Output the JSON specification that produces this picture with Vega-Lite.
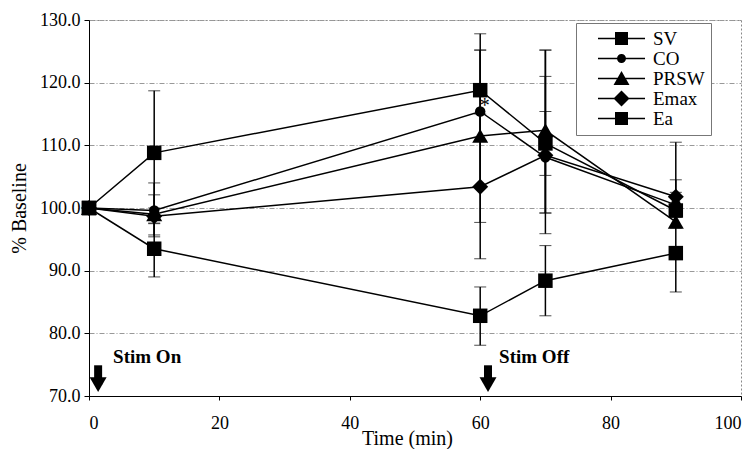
{
  "$schema": "https://vega.github.io/schema/vega-lite/v6.json",
  "width": 652,
  "height": 376,
  "autosize": {"type": "none"},
  "padding": {"left": 89, "top": 20, "right": 13, "bottom": 53},
  "background": "white",
  "config": {
    "view": {"stroke": "#888", "strokeDash": [2, 2], "strokeWidth": 1},
    "font": "Liberation Serif",
    "axis": {
      "labelFont": "Liberation Serif",
      "titleFont": "Liberation Serif",
      "labelColor": "black",
      "titleColor": "black",
      "domainColor": "black",
      "tickColor": "black",
      "titleFontWeight": "normal",
      "labelFontSize": 18,
      "titleFontSize": 20
    }
  },
  "datasets": {
    "series": [
      {"series": "SV", "t": 0, "v": 100, "lo": null, "hi": null},
      {"series": "SV", "t": 10, "v": 93.5, "lo": 89.0, "hi": 97.6},
      {"series": "SV", "t": 60, "v": 82.8, "lo": 78.1, "hi": 87.4},
      {"series": "SV", "t": 70, "v": 88.4, "lo": 82.8, "hi": 94.0},
      {"series": "SV", "t": 90, "v": 92.8, "lo": 86.6, "hi": 99.0},
      {"series": "CO", "t": 0, "v": 100, "lo": null, "hi": null},
      {"series": "CO", "t": 10, "v": 99.6, "lo": 95.4, "hi": 104.0},
      {"series": "CO", "t": 60, "v": 115.4, "lo": 103.4, "hi": 125.2},
      {"series": "CO", "t": 70, "v": 108.1, "lo": 99.2, "hi": 121.0},
      {"series": "CO", "t": 90, "v": 100.5, "lo": 99.5, "hi": 102.5},
      {"series": "PRSW", "t": 0, "v": 100, "lo": null, "hi": null},
      {"series": "PRSW", "t": 10, "v": 99.0, "lo": 95.7, "hi": 102.1},
      {"series": "PRSW", "t": 60, "v": 111.5, "lo": 97.7, "hi": 125.2},
      {"series": "PRSW", "t": 70, "v": 112.4, "lo": 99.2, "hi": 125.2},
      {"series": "PRSW", "t": 90, "v": 97.8, "lo": 96.8, "hi": 99.5},
      {"series": "Emax", "t": 0, "v": 100, "lo": null, "hi": null},
      {"series": "Emax", "t": 10, "v": 98.7, "lo": 97.5, "hi": 100.0},
      {"series": "Emax", "t": 60, "v": 103.4, "lo": 91.9, "hi": 115.0},
      {"series": "Emax", "t": 70, "v": 108.4, "lo": 105.2, "hi": 115.4},
      {"series": "Emax", "t": 90, "v": 101.8, "lo": 100.5, "hi": 104.5},
      {"series": "Ea", "t": 0, "v": 100, "lo": null, "hi": null},
      {"series": "Ea", "t": 10, "v": 108.8, "lo": 99.0, "hi": 118.7},
      {"series": "Ea", "t": 60, "v": 118.8, "lo": 110.8, "hi": 127.8},
      {"series": "Ea", "t": 70, "v": 110.3, "lo": 95.9, "hi": 125.2},
      {"series": "Ea", "t": 90, "v": 99.6, "lo": 98.5, "hi": 110.5}
    ],
    "notes": [
      {"t": 3.7, "v": 75.3, "label": "Stim On"},
      {"t": 62.9, "v": 75.3, "label": "Stim Off"}
    ],
    "arrows": [
      {"t": 1.4, "top": 74.9, "bottom": 71.8, "head": 71.8},
      {"t": 61.2, "top": 74.9, "bottom": 71.8, "head": 71.8}
    ],
    "star": [
      {"t": 60.7, "v": 115.3, "label": "*"}
    ]
  },
  "layer": [
    {
      "data": {"name": "series"},
      "mark": {"type": "line", "color": "black", "strokeWidth": 1.5},
      "encoding": {
        "x": {
          "field": "t", "type": "quantitative",
          "scale": {"domain": [0, 100], "nice": false},
          "axis": {
            "values": [0, 20, 40, 60, 80, 100],
            "title": "Time (min)",
            "grid": false,
            "tickSize": 4,
            "labelPadding": 14,
            "titlePadding": -4,
            "titleX": 318
          }
        },
        "y": {
          "field": "v", "type": "quantitative",
          "title": "% Baseline",
          "scale": {"domain": [70, 130], "nice": false, "zero": false},
          "axis": {
            "values": [70, 80, 90, 100, 110, 120, 130],
            "format": ".1f",
            "title": "% Baseline",
            "grid": true,
            "gridColor": "#999",
            "gridDash": [5, 2, 1, 2],
            "tickSize": 5,
            "labelPadding": 4,
            "titlePadding": 10
          }
        },
        "detail": {"field": "series"}
      }
    },
    {
      "data": {"name": "series"},
      "transform": [{"filter": "datum.lo != null"}],
      "mark": {"type": "errorbar", "color": "black", "ticks": {"size": 12, "color": "black"}, "rule": {"color": "black", "strokeWidth": 1.5}},
      "encoding": {
        "x": {"field": "t", "type": "quantitative"},
        "y": {"field": "lo", "type": "quantitative", "title": "% Baseline"},
        "y2": {"field": "hi"},
        "detail": {"field": "series"}
      }
    },
    {
      "data": {"name": "series"},
      "mark": {"type": "point", "filled": true, "color": "black", "opacity": 0, "size": 100},
      "encoding": {
        "x": {"field": "t", "type": "quantitative"},
        "y": {"field": "v", "type": "quantitative", "title": "% Baseline"},
        "shape": {
          "field": "series", "type": "nominal",
          "scale": {
            "domain": ["SV", "CO", "PRSW", "Emax", "Ea"],
            "range": [
              "M-4.7,-0.17H4.7V0.17H-4.7ZM-1.3,-1.3H1.3V1.3H-1.3Z",
              "M-4.7,-0.17H4.7V0.17H-4.7ZM-0.9,0A0.9,0.9,0,1,1,0.9,0A0.9,0.9,0,1,1,-0.9,0Z",
              "M-4.7,-0.17H4.7V0.17H-4.7ZM0,-1.5L1.6,1.3H-1.6Z",
              "M-4.7,-0.17H4.7V0.17H-4.7ZM0,-1.6L1.6,0L0,1.6L-1.6,0Z",
              "M-4.7,-0.17H4.7V0.17H-4.7ZM-1.3,-1.3H1.3V1.3H-1.3Z"
            ]
          },
          "legend": {
            "title": null,
            "orient": "none",
            "legendX": 487,
            "legendY": 3,
            "labelFont": "Liberation Serif",
            "labelFontSize": 19,
            "labelColor": "black",
            "labelAlign": "left",
            "strokeColor": "#777",
            "fillColor": "white",
            "padding": 6,
            "symbolOffset": 30,
            "labelOffset": 22,
            "rowPadding": -3,
            "symbolSize": 100,
            "symbolOpacity": 1,
            "symbolFillColor": "black",
            "symbolStrokeColor": "black",
            "symbolStrokeWidth": 0,
            "encode": {
              "legend": {
                "update": {"strokeDash": {"value": [2, 2]}}
              }
            }
          }
        }
      }
    },
    {
      "data": {"name": "series"},
      "transform": [{"filter": "datum.series === 'SV' || datum.series === 'Ea'"}],
      "mark": {"type": "point", "shape": "square", "filled": true, "color": "black", "opacity": 1, "size": 210},
      "encoding": {
        "x": {"field": "t", "type": "quantitative"},
        "y": {"field": "v", "type": "quantitative", "title": "% Baseline"}
      }
    },
    {
      "data": {"name": "series"},
      "transform": [{"filter": "datum.series === 'CO'"}],
      "mark": {"type": "point", "shape": "circle", "filled": true, "color": "black", "opacity": 1, "size": 110},
      "encoding": {
        "x": {"field": "t", "type": "quantitative"},
        "y": {"field": "v", "type": "quantitative", "title": "% Baseline"}
      }
    },
    {
      "data": {"name": "series"},
      "transform": [{"filter": "datum.series === 'PRSW'"}],
      "mark": {"type": "point", "shape": "triangle-up", "filled": true, "color": "black", "opacity": 1, "size": 256},
      "encoding": {
        "x": {"field": "t", "type": "quantitative"},
        "y": {"field": "v", "type": "quantitative", "title": "% Baseline"}
      }
    },
    {
      "data": {"name": "series"},
      "transform": [{"filter": "datum.series === 'Emax'"}],
      "mark": {"type": "point", "shape": "diamond", "filled": true, "color": "black", "opacity": 1, "size": 256},
      "encoding": {
        "x": {"field": "t", "type": "quantitative"},
        "y": {"field": "v", "type": "quantitative", "title": "% Baseline"}
      }
    },
    {
      "data": {"name": "notes"},
      "mark": {"type": "text", "align": "left", "baseline": "alphabetic", "font": "Liberation Serif", "fontWeight": "bold", "fontSize": 19, "color": "black"},
      "encoding": {
        "x": {"field": "t", "type": "quantitative"},
        "y": {"field": "v", "type": "quantitative", "title": "% Baseline"},
        "text": {"field": "label"}
      }
    },
    {
      "data": {"name": "arrows"},
      "mark": {"type": "rule", "color": "black", "strokeWidth": 8},
      "encoding": {
        "x": {"field": "t", "type": "quantitative"},
        "y": {"field": "top", "type": "quantitative", "title": "% Baseline"},
        "y2": {"field": "bottom"}
      }
    },
    {
      "data": {"name": "arrows"},
      "mark": {"type": "point", "shape": "triangle-down", "filled": true, "color": "black", "size": 289, "opacity": 1},
      "encoding": {
        "x": {"field": "t", "type": "quantitative"},
        "y": {"field": "head", "type": "quantitative", "title": "% Baseline"}
      }
    },
    {
      "data": {"name": "star"},
      "mark": {"type": "text", "align": "center", "baseline": "alphabetic", "font": "Liberation Serif", "fontSize": 20, "color": "black"},
      "encoding": {
        "x": {"field": "t", "type": "quantitative"},
        "y": {"field": "v", "type": "quantitative", "title": "% Baseline"},
        "text": {"field": "label"}
      }
    }
  ]
}
